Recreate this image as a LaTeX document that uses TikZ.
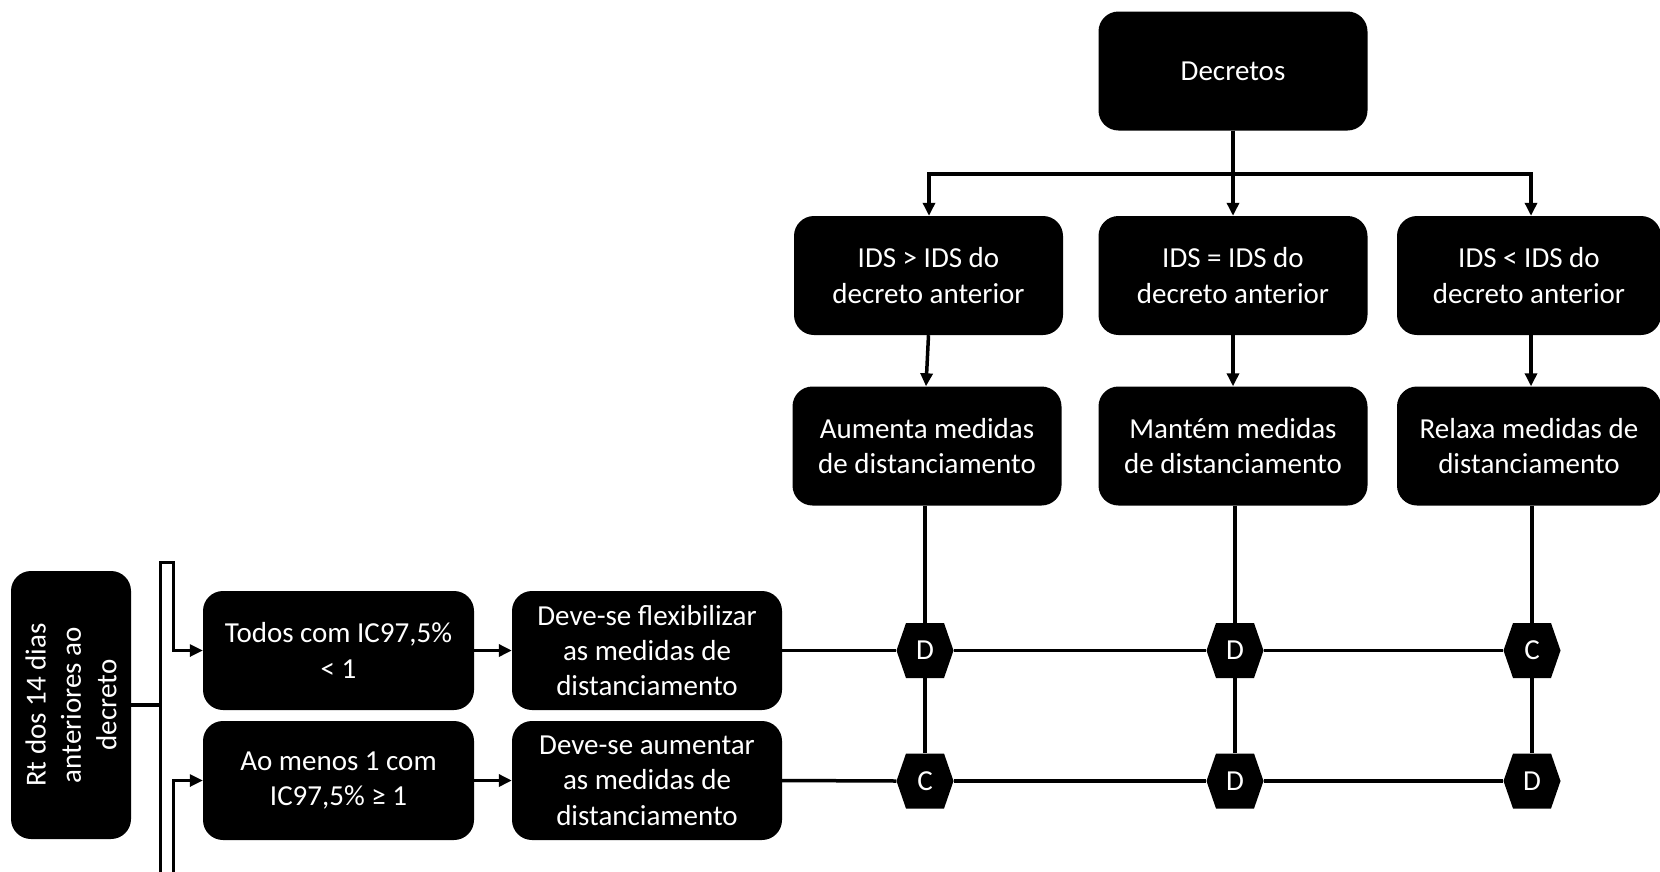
\documentclass[tikz,border=0pt]{standalone}
\usepackage{fontspec}
\setmainfont{Carlito}
\usetikzlibrary{arrows.meta}
\newcommand{\fsz}{\fontsize{29}{35.4}\selectfont}
\begin{document}
\begin{tikzpicture}[x=1pt,y=-1pt,
  box/.style={fill=black,text=white,rounded corners=20pt,minimum width=269pt,minimum height=119pt,align=center,inner sep=0pt,font=\fsz},
  hexa/.style={minimum width=57pt,minimum height=55pt,inner sep=0pt,text=white,font=\fsz,fill=white,
    path picture={\fill[black] (path picture bounding box.west) -- ([xshift=9.5pt]path picture bounding box.north west) -- ([xshift=-9.5pt]path picture bounding box.north east) -- (path picture bounding box.east) -- ([xshift=-9.5pt]path picture bounding box.south east) -- ([xshift=9.5pt]path picture bounding box.south west) -- cycle;}},
  conn/.style={line width=3.5pt},
  arr/.style={line width=3.5pt,-{Triangle[length=13pt,width=12pt]}}]
\path[use as bounding box] (0,0) rectangle (1660,871);

\node[box] (dec) at (1233,71) {Decretos};
\node[box] (ids1) at (928.5,275.5) {IDS > IDS do\\decreto anterior};
\node[box] (ids2) at (1233,275.5) {IDS = IDS do\\decreto anterior};
\node[box,minimum width=264pt] (ids3) at (1529,275.5) {IDS < IDS do\\decreto anterior};
\node[box] (act1) at (927,446) {Aumenta medidas\\de distanciamento};
\node[box] (act2) at (1233,446) {Mantém medidas\\de distanciamento};
\node[box,minimum width=264pt] (act3) at (1529,446) {Relaxa medidas de\\distanciamento};
\node[box,minimum width=271pt] (todos) at (338.5,650.5) {Todos com IC97,5\%\\< 1};
\node[box,minimum width=271pt] (aomenos) at (338.5,780.5) {Ao menos 1 com\\IC97,5\% ≥ 1};
\node[box,minimum width=270pt] (flex) at (647,650.5) {Deve-se flexibilizar\\as medidas de\\distanciamento};
\node[box,minimum width=270pt] (aum) at (647,780.5) {Deve-se aumentar\\as medidas de\\distanciamento};
\node[box,rotate=90,minimum width=268pt,minimum height=120pt] (rt) at (71,705) {Rt dos 14 dias\\anteriores ao\\decreto};

\node[hexa] (h11) at (925,650.5) {D};
\node[hexa] (h12) at (1235,650.5) {D};
\node[hexa] (h13) at (1532,650.5) {C};
\node[hexa] (h21) at (925,781) {C};
\node[hexa] (h22) at (1235,781) {D};
\node[hexa] (h23) at (1532,781) {D};

% top tree
\draw[arr] (dec.south) -- (ids2.north);
\draw[arr,line width=4pt] (dec.south) -- ++(0,43) -| ([xshift=0.5pt]ids1.north);
\draw[arr,line width=4pt] (dec.south) -- ++(0,43) -| ([xshift=2pt]ids3.north);
\draw[arr] (ids1.south) -- ([xshift=-1pt]act1.north);
\draw[arr] (ids2.south) -- (act2.north);
\draw[arr] ([xshift=2pt]ids3.south) -- ([xshift=2pt]act3.north);

% columns
\draw[conn] ([xshift=-2pt]act1.south) -- (h11.north);
\draw[conn] ([xshift=2pt]act2.south) -- (h12.north);
\draw[conn] ([xshift=3pt]act3.south) -- (h13.north);
\draw[conn] (h11.south) -- (h21.north);
\draw[conn] (h12.south) -- (h22.north);
\draw[conn] (h13.south) -- (h23.north);

% rows
\draw[conn] (flex.east) -- (h11.west);
\draw[conn] (h11.east) -- (h12.west);
\draw[conn] (h12.east) -- (h13.west);
\draw[conn] (aum.east) -- (h21.west);
\draw[conn] (h21.east) -- (h22.west);
\draw[conn] (h22.east) -- (h23.west);
\draw[arr] (todos.east) -- (flex.west);
\draw[arr] (aomenos.east) -- (aum.west);

% bracket
\coordinate (bLt) at (160,562);
\coordinate (bLb) at (160,880);
\coordinate (bRt) at (173,562);
\coordinate (bRb) at (173,880);
\draw[arr,line width=3pt] (bLb) -- (bLt) -- (bRt) |- (todos.west);
\draw[arr,line width=3pt] (bRb) |- (aomenos.west);
\draw[conn] (rt.south) -- (rt.south -| bLt);
\end{tikzpicture}
\end{document}
